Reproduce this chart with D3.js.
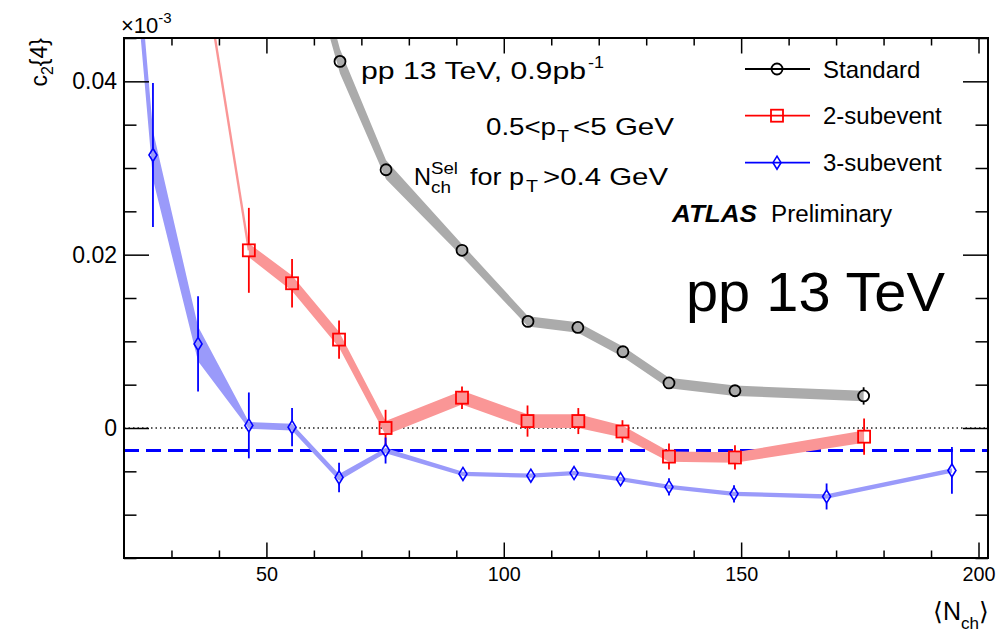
<!DOCTYPE html>
<html><head><meta charset="utf-8">
<script src="https://cdn.jsdelivr.net/npm/d3@7"></script>
<style>
body{margin:0;background:#fff}
svg text{font-family:"Liberation Sans",Arial,Helvetica,sans-serif;fill:#000}
</style>
</head><body>
<svg id="c" width="1004" height="635"></svg>
<script>
// ---- data ----
const stdN    = [55.6, 65.5, 75.2, 91.2, 105.1, 115.6, 125.1, 134.8, 148.7, 175.8];
const stdV    = [0.062, 0.0423, 0.0298, 0.0205, 0.0123, 0.0116, 0.0088, 0.0052, 0.0043, 0.0037];
const stdStat = [0.0008, 0.0006, 0.0006, 0.0004, 0.0004, 0.0004, 0.0004, 0.0004, 0.0004, 0.0010];
const stdSys  = [0.0018, 0.0014, 0.0011, 0.0007, 0.0006, 0.0006, 0.0006, 0.0006, 0.0006, 0.0006];

const redN    = [35.5, 46.3, 55.4, 65.3, 75.1, 91.2, 105.0, 115.7, 125.0, 134.8, 148.7, 175.9];
const redV    = [0.0576, 0.0205, 0.0167, 0.0102, 0.0000, 0.0035, 0.0008, 0.0008, -0.0004, -0.0033, -0.0034, -0.0010];
const redStat = [0.0050, 0.0049, 0.0028, 0.0022, 0.0021, 0.0013, 0.0018, 0.0015, 0.0013, 0.0015, 0.0014, 0.0021];
const redSys  = [null, 0.0008, 0.0009, 0.0009, 0.0008, 0.0008, 0.0008, 0.0008, 0.0007, 0.0006, 0.0006, 0.0007];

const bluN    = [18.0, 26.1, 35.6, 46.3, 55.4, 65.3, 75.1, 91.4, 105.7, 114.8, 124.6, 134.8, 148.5, 168.0, 194.4];
const bluV    = [0.083, 0.0315, 0.0097, 0.0003, 0.0001, -0.0057, -0.0026, -0.0053, -0.0055, -0.0052, -0.0059, -0.0068, -0.0076, -0.0079, -0.0049];
const bluStat = [0.0100, 0.0083, 0.0055, 0.0038, 0.0022, 0.0017, 0.0015, 0.0007, 0.0007, 0.0006, 0.0007, 0.0010, 0.0010, 0.0015, 0.0027];
const bluSys  = [0.0030, 0.0028, 0.0020, 0.0004, 0.0004, 0.0004, 0.0003, 0.00025, 0.00025, 0.00025, 0.00025, 0.00025, 0.00025, 0.00025, 0.00025];

const dashLevel = -0.0026;
const xMajor = [50, 100, 150, 200];
const yMajor = [0, 0.02, 0.04];
const legendLabels = ["Standard", "2-subevent", "3-subevent"];

// ---- layout ----
const svg = d3.select("#c");
const X = d3.scaleLinear().domain([20, 202]).range([124, 988]);
const Y = d3.scaleLinear().domain([-0.015, 0.045]).range([558, 38]);

const xMinor = d3.range(30, 201, 10).filter(v => !xMajor.includes(v));
const yMinor = d3.range(-0.015, 0.0451, 0.005).map(v => +v.toFixed(4)).filter(v => !yMajor.some(m => Math.abs(m - v) < 1e-9));

svg.append("defs").append("clipPath").attr("id", "clip")
  .append("rect").attr("x", 124).attr("y", 38).attr("width", 864).attr("height", 520);

const plot = svg.append("g").attr("clip-path", "url(#clip)");

plot.append("line").attr("x1", X(20)).attr("x2", X(202)).attr("y1", Y(0)).attr("y2", Y(0))
  .attr("stroke", "#222").attr("stroke-width", 1.5).attr("stroke-dasharray", "1.5,3");
plot.append("line").attr("x1", X(20)).attr("x2", X(202)).attr("y1", Y(dashLevel)).attr("y2", Y(dashLevel))
  .attr("stroke", "#0000ff").attr("stroke-width", 3).attr("stroke-dasharray", "15,7");

function mk(N, V, S, E) { return N.map((n, i) => ({n, v: V[i], s: S[i], e: E[i]})); }
const series = [
  {data: mk(stdN, stdV, stdSys, stdStat), band: "#ababab", col: "#000000", shape: "circle"},
  {data: mk(redN, redV, redSys, redStat), band: "#fa9696", col: "#ff0000", shape: "square"},
  {data: mk(bluN, bluV, bluSys, bluStat), band: "#9a9afa", col: "#0000ff", shape: "diamond"}
];

const area = d3.area().x(d => X(d.n)).y0(d => Y(d.v - d.s)).y1(d => Y(d.v + d.s));
const line = d3.line().x(d => X(d.n)).y(d => Y(d.v));

series.slice().reverse().forEach(s => {
  const withBand = s.data.filter(d => d.s != null);
  const noBand = s.data.filter(d => d.s == null);
  if (noBand.length) {
    plot.append("path").attr("d", line(noBand.concat([withBand[0]]))).attr("fill", "none").attr("stroke", s.band).attr("stroke-width", 2.4);
  }
  plot.append("path").attr("d", area(withBand)).attr("fill", s.band).attr("stroke", "none");
});

const half = {circle: 5.5, square: 6, diamond: 6.5};
function drawMarker(g, shape, cx, cy, col) {
  if (shape === "circle") {
    g.append("circle").attr("cx", cx).attr("cy", cy).attr("r", 5.5).attr("fill", "none").attr("stroke", col).attr("stroke-width", 1.8);
  } else if (shape === "square") {
    g.append("rect").attr("x", cx - 6).attr("y", cy - 6).attr("width", 12).attr("height", 12).attr("fill", "none").attr("stroke", col).attr("stroke-width", 1.8);
  } else {
    g.append("path").attr("d", `M${cx},${cy-6.5}L${cx+4},${cy}L${cx},${cy+6.5}L${cx-4},${cy}Z`).attr("fill", "none").attr("stroke", col).attr("stroke-width", 1.6);
  }
}

series.forEach(s => {
  const g = plot.append("g");
  s.data.forEach(d => {
    const cx = X(d.n), cy = Y(d.v), h = half[s.shape];
    const yt = Y(d.v + d.e), yb = Y(d.v - d.e);
    if (cy - yt > h) g.append("line").attr("x1", cx).attr("x2", cx).attr("y1", yt).attr("y2", cy - h).attr("stroke", s.col).attr("stroke-width", 1.8);
    if (yb - cy > h) g.append("line").attr("x1", cx).attr("x2", cx).attr("y1", cy + h).attr("y2", yb).attr("stroke", s.col).attr("stroke-width", 1.8);
    drawMarker(g, s.shape, cx, cy, s.col);
  });
});

// axes
function styleAxis(g) { g.select(".domain").remove(); g.selectAll(".tick line").attr("stroke", "#000").attr("stroke-width", 1.5); }
svg.append("g").attr("transform", "translate(0,558)")
  .call(d3.axisBottom(X).tickValues(xMajor).tickSize(-15.5).tickPadding(8).tickFormat(d3.format("d")))
  .call(styleAxis).call(g => g.selectAll("text").attr("font-size", 21).attr("font-family", "Liberation Sans, Arial, sans-serif").attr("fill", "#000")
     .attr("textLength", d => String(d).length * 11).attr("lengthAdjust", "spacingAndGlyphs"));
svg.append("g").attr("transform", "translate(0,558)")
  .call(d3.axisBottom(X).tickValues(xMinor).tickSize(-7.5).tickFormat("")).call(styleAxis);
svg.append("g").attr("transform", "translate(0,38)")
  .call(d3.axisTop(X).tickValues(xMajor).tickSize(-15.5).tickFormat("")).call(styleAxis);
svg.append("g").attr("transform", "translate(0,38)")
  .call(d3.axisTop(X).tickValues(xMinor).tickSize(-7.5).tickFormat("")).call(styleAxis);

svg.append("g").attr("transform", "translate(124,0)")
  .call(d3.axisLeft(Y).tickValues(yMajor).tickSize(-25).tickPadding(7).tickFormat(d => d === 0 ? "0" : d3.format(".2f")(d)))
  .call(styleAxis).call(g => g.selectAll("text").attr("font-size", 23).attr("font-family", "Liberation Sans, Arial, sans-serif").attr("fill", "#000"));
svg.append("g").attr("transform", "translate(124,0)")
  .call(d3.axisLeft(Y).tickValues(yMinor).tickSize(-12.5).tickFormat("")).call(styleAxis);
svg.append("g").attr("transform", "translate(988,0)")
  .call(d3.axisRight(Y).tickValues(yMajor).tickSize(-25).tickFormat("")).call(styleAxis);
svg.append("g").attr("transform", "translate(988,0)")
  .call(d3.axisRight(Y).tickValues(yMinor).tickSize(-12.5).tickFormat("")).call(styleAxis);

svg.append("rect").attr("x", 124).attr("y", 38).attr("width", 864).attr("height", 520)
  .attr("fill", "none").attr("stroke", "#000").attr("stroke-width", 2);

// axis titles
const yt = svg.append("text").attr("transform", "translate(47,38) rotate(-90)").attr("text-anchor", "end").attr("font-size", 23);
yt.append("tspan").text("c");
yt.append("tspan").attr("dy", 6).attr("font-size", 16).text("2");
yt.append("tspan").attr("dy", -6).text("{4}");

const mult = svg.append("text").attr("x", 121).attr("y", 33).attr("font-size", 22);
mult.append("tspan").text("\u00d710");
mult.append("tspan").attr("dy", -10).attr("font-size", 15).text("-3");

const xt = svg.append("text").attr("x", 989).attr("y", 620).attr("text-anchor", "end").attr("font-size", 25);
xt.append("tspan").text("\u27e8N");
xt.append("tspan").attr("dy", 9).attr("font-size", 17).text("ch");
xt.append("tspan").attr("dy", -9).text("\u27e9");

// annotations
function piece(x, y, size, str, len) {
  const t = svg.append("text").attr("x", x).attr("y", y).attr("font-size", size).text(str);
  if (len) t.attr("textLength", len).attr("lengthAdjust", "spacingAndGlyphs");
  return t;
}
piece(361, 79, 24, "pp 13 TeV, 0.9pb", 225);
piece(588, 68, 16, "-1", 16);

piece(486, 135, 24, "0.5<p", 70);
piece(557, 142, 16, "T", 12);
piece(573, 135, 24, "<5 GeV", 101);

piece(414, 185, 24, "N", 17);
piece(431, 174, 16, "Sel", 27);
piece(431, 193, 16, "ch", 20);
piece(470, 185, 24, "for p", 54);
piece(526, 192, 16, "T", 12);
piece(543, 185, 24, ">0.4 GeV", 125);

piece(672, 222, 23, "ATLAS", 85).attr("font-weight", "bold").attr("font-style", "italic");
piece(771, 222, 23, "Preliminary", 121);
piece(686, 311, 55, "pp 13 TeV", 259);

// legend
const legY = [69, 115.7, 162.7];
series.forEach((s, i) => {
  const g = svg.append("g");
  g.append("line").attr("x1", 745).attr("x2", 810).attr("y1", legY[i]).attr("y2", legY[i]).attr("stroke", s.col).attr("stroke-width", 1.8);
  drawMarker(g, s.shape, 777, legY[i], s.col);
  g.append("text").attr("x", 823).attr("y", legY[i] + 8.5).attr("font-size", 24).text(legendLabels[i]);
});
</script>
</body></html>
